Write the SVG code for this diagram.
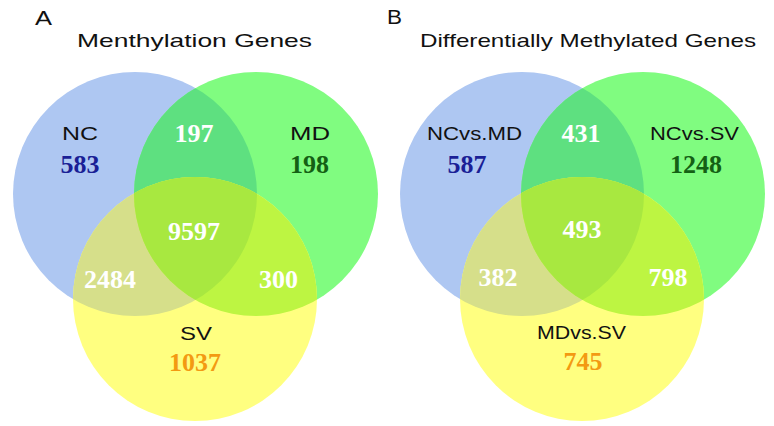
<svg xmlns="http://www.w3.org/2000/svg" width="774" height="426" viewBox="0 0 774 426">
<style>
.bl{fill:#aec7f2}.gr{fill:#80fc80}.ye{fill:#ffff80}
.bg{fill:#5ee080}.by{fill:#d6df8a}.gy{fill:#bdf542}.bgy{fill:#a8e840}
.sans{font-family:"Liberation Sans",Arial,sans-serif;fill:#111}
.ttl{font-size:19px}.pl{font-size:20px}.lab{font-size:18px}
.num{font-family:"Liberation Serif","Times New Roman",serif;font-weight:bold;font-size:26px;text-anchor:middle}
.w{fill:#fff}.nb{fill:#1a1f96}.ng{fill:#146014}.no{fill:#f39a12}
</style>
<defs>
<clipPath id="cAb"><circle cx="135" cy="194" r="122"/></clipPath>
<clipPath id="cAg"><circle cx="256" cy="194" r="122"/></clipPath>
<clipPath id="cBb"><circle cx="522" cy="194" r="122"/></clipPath>
<clipPath id="cBg"><circle cx="643" cy="194" r="122"/></clipPath>
</defs>
<rect width="774" height="426" fill="#fff"/>

<g id="panelA">
<text class="sans pl" x="35" y="25" textLength="17" lengthAdjust="spacingAndGlyphs">A</text>
<text class="sans ttl" x="77" y="47" textLength="235" lengthAdjust="spacingAndGlyphs">Menthylation Genes</text>
<g id="A-NC"><circle class="bl" cx="135" cy="194" r="122"/></g>
<g id="A-MD"><circle class="gr" cx="256" cy="194" r="122"/></g>
<g id="A-SV"><circle class="ye" cx="195" cy="299" r="122"/></g>
<g id="A-NC-MD"><circle class="bg" cx="256" cy="194" r="122" clip-path="url(#cAb)"/></g>
<g id="A-NC-SV"><circle class="by" cx="195" cy="299" r="122" clip-path="url(#cAb)"/></g>
<g id="A-MD-SV"><circle class="gy" cx="195" cy="299" r="122" clip-path="url(#cAg)"/></g>
<g id="A-all" clip-path="url(#cAb)"><circle class="bgy" cx="195" cy="299" r="122" clip-path="url(#cAg)"/></g>
<text class="sans lab" x="62" y="140" textLength="36" lengthAdjust="spacingAndGlyphs">NC</text>
<text class="num nb" x="80" y="173">583</text>
<text class="num w" x="194" y="142">197</text>
<text class="sans lab" x="290" y="140" textLength="40" lengthAdjust="spacingAndGlyphs">MD</text>
<text class="num ng" x="309.5" y="173">198</text>
<text class="num w" x="194" y="240">9597</text>
<text class="num w" x="110" y="288">2484</text>
<text class="num w" x="278.5" y="288">300</text>
<text class="sans lab" x="180" y="340" textLength="32" lengthAdjust="spacingAndGlyphs">SV</text>
<text class="num no" x="195" y="371">1037</text>
</g>

<g id="panelB">
<text class="sans pl" x="387" y="24" textLength="15" lengthAdjust="spacingAndGlyphs">B</text>
<text class="sans ttl" x="420" y="47" textLength="336" lengthAdjust="spacingAndGlyphs">Differentially Methylated Genes</text>
<g id="B-NCvsMD"><circle class="bl" cx="522" cy="194" r="122"/></g>
<g id="B-NCvsSV"><circle class="gr" cx="643" cy="194" r="122"/></g>
<g id="B-MDvsSV"><circle class="ye" cx="582" cy="299" r="122"/></g>
<g id="B-1-2"><circle class="bg" cx="643" cy="194" r="122" clip-path="url(#cBb)"/></g>
<g id="B-1-3"><circle class="by" cx="582" cy="299" r="122" clip-path="url(#cBb)"/></g>
<g id="B-2-3"><circle class="gy" cx="582" cy="299" r="122" clip-path="url(#cBg)"/></g>
<g id="B-all" clip-path="url(#cBb)"><circle class="bgy" cx="582" cy="299" r="122" clip-path="url(#cBg)"/></g>
<text class="sans lab" x="427" y="140" textLength="95" lengthAdjust="spacingAndGlyphs">NCvs.MD</text>
<text class="num nb" x="467" y="173">587</text>
<text class="num w" x="581" y="142">431</text>
<text class="sans lab" x="650" y="140" textLength="89" lengthAdjust="spacingAndGlyphs">NCvs.SV</text>
<text class="num ng" x="696" y="173">1248</text>
<text class="num w" x="582" y="238">493</text>
<text class="num w" x="498" y="286">382</text>
<text class="num w" x="668" y="286">798</text>
<text class="sans lab" x="537" y="339" textLength="89" lengthAdjust="spacingAndGlyphs">MDvs.SV</text>
<text class="num no" x="583" y="370">745</text>
</g>
</svg>
